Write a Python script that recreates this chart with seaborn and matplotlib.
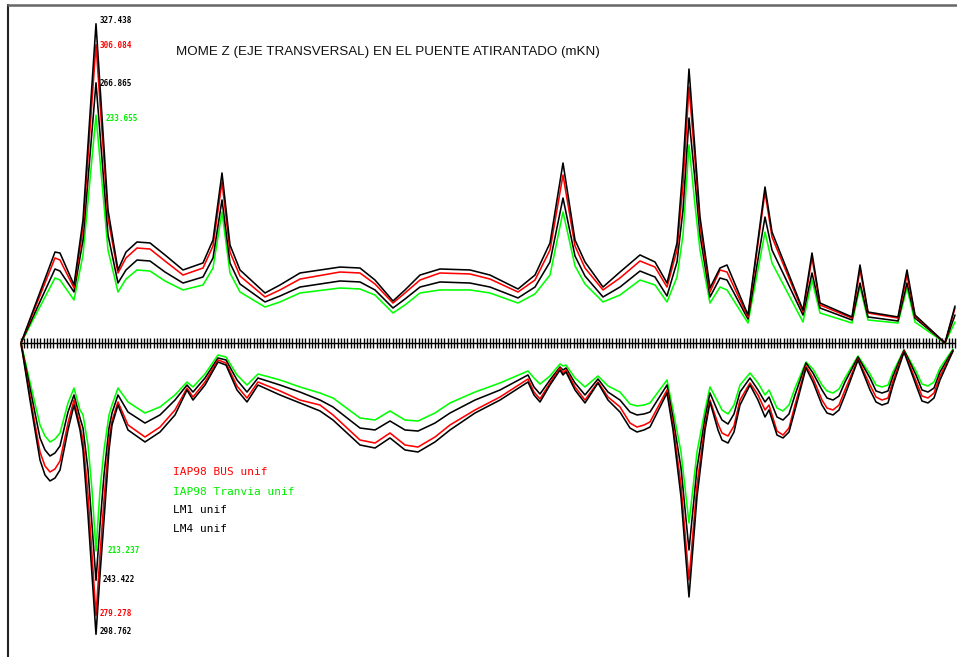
import numpy as np
import pandas as pd
import matplotlib
matplotlib.use("Agg")
import matplotlib.pyplot as plt
from matplotlib.lines import Line2D
import seaborn as sns

# ---------------- data (moments in mkN along the deck) ----------------
x_top = [21, 55, 60, 74, 83, 96, 108, 118, 126, 137, 150, 165, 183, 203, 213, 222, 230, 240, 265, 280,
         300, 340, 360, 375, 393, 405, 420, 440, 470, 490, 518, 535, 550, 563, 575, 585, 603, 620, 640, 655,
         667, 677, 683, 689, 695, 700, 710, 720, 727, 748, 765, 772, 803, 812, 820, 852, 860, 868, 898, 907,
         915, 945, 955]

lm1_max = [0, 93.3, 92.3, 59.5, 126.2, 327.438, 136.4, 74.9, 93.3, 103.6, 102.6, 90.3, 74.9, 82.1, 105.6, 174.4,
           100.5, 74.9, 51.3, 59.5, 71.8, 77.9, 76.9, 64.6, 43.1, 54.4, 69.7, 75.9, 74.9, 69.7, 55.4, 69.7, 102.6,
           184.6, 105.6, 83.1, 57.4, 72.8, 90.3, 83.1, 61.5, 102.6, 180.5, 281.0, 197.9, 129.2, 56.4, 76.9, 80.0,
           28.7, 160.0, 113.8, 33.8, 92.3, 41.0, 26.7, 80.0, 31.8, 26.7, 74.9, 28.7, 0, 37.9]
bus_max = [0, 87.2, 85.1, 56.4, 117.9, 306.084, 128.2, 71.8, 87.2, 97.4, 96.4, 84.1, 69.7, 76.9, 99.5, 165.1,
           93.3, 68.7, 47.2, 54.4, 65.6, 72.8, 71.8, 60.5, 41.0, 51.3, 64.6, 71.8, 70.8, 65.6, 52.3, 64.6, 95.4,
           172.3, 99.5, 76.9, 54.4, 66.7, 84.1, 77.9, 57.4, 95.4, 162.1, 262.6, 187.7, 121.0, 52.3, 74.9, 72.8,
           26.7, 154.9, 108.7, 31.8, 87.2, 39.0, 25.6, 74.9, 30.8, 25.6, 69.7, 27.7, 0, 35.9]
lm4_max = [0, 75.9, 73.8, 52.3, 105.6, 266.865, 110.8, 61.5, 74.9, 85.1, 84.1, 72.8, 61.5, 67.7, 87.2, 146.7,
           82.1, 60.5, 42.1, 48.2, 57.4, 63.6, 62.6, 54.4, 35.9, 45.1, 57.4, 62.6, 61.5, 57.4, 46.2, 57.4, 83.1,
           148.7, 89.2, 68.7, 47.2, 57.4, 73.8, 67.7, 48.2, 83.1, 136.4, 230.8, 167.2, 110.8, 47.2, 66.7, 64.6,
           24.6, 129.2, 95.4, 28.7, 71.8, 35.9, 23.6, 61.5, 26.7, 22.6, 61.5, 25.6, 0, 28.7]
tram_max = [0, 66.7, 64.6, 44.1, 90.3, 233.655, 95.4, 52.3, 65.6, 74.9, 73.8, 63.6, 54.4, 59.5, 76.9, 134.4,
            71.8, 52.3, 36.9, 42.1, 51.3, 56.4, 55.4, 49.2, 30.8, 39.0, 51.3, 54.4, 54.4, 51.3, 41.0, 50.3, 69.7,
            134.4, 79.0, 60.5, 42.1, 49.2, 64.6, 59.5, 42.1, 67.7, 110.8, 203.1, 141.5, 95.4, 41.0, 57.4, 54.4,
            20.5, 113.8, 82.1, 21.5, 64.6, 30.8, 20.5, 57.4, 23.6, 20.5, 56.4, 21.5, 0, 21.5]

x_bot = [21, 30, 40, 45, 50, 55, 60, 68, 74, 80,
         83, 88, 92, 96, 100, 104, 109, 112, 118, 128,
         145, 160, 175, 187, 193, 205, 218, 226, 237, 247,
         258, 280, 300, 320, 333, 360, 375, 390, 405, 418,
         435, 450, 475, 500, 528, 534, 540, 550, 560, 563,
         566, 575, 585, 598, 608, 620, 630, 637, 644, 650,
         667, 673, 681, 689, 697, 705, 710, 718, 722, 728,
         734, 740, 750, 758, 765, 769, 777, 783, 789, 795,
         806, 813, 822, 827, 833, 839, 845, 858, 870, 876,
         882, 888, 893, 904, 916, 922, 928, 934, 940, 953]

lm1_min = [0, -58.5, -120.0, -135.4, -141.5, -138.5, -130.3, -89.2, -63.6, -89.2,
           -109.7, -176.4, -237.9, -298.762, -237.9, -181.5, -109.7, -84.1, -63.6, -89.2,
           -101.5, -91.3, -73.8, -48.2, -58.5, -43.1, -19.5, -22.6, -48.2, -60.5,
           -43.1, -53.3, -61.5, -69.7, -79.0, -104.6, -107.7, -97.4, -109.7, -111.8,
           -101.5, -89.2, -71.8, -58.5, -40.0, -53.3, -60.5, -43.1, -27.7, -32.8,
           -29.7, -48.2, -61.5, -41.0, -58.5, -70.8, -87.2, -91.3, -89.2, -86.2,
           -51.3, -89.2, -157.9, -260.5, -157.9, -89.2, -60.5, -89.2, -99.5, -102.6,
           -91.3, -63.6, -43.1, -58.5, -75.9, -68.7, -94.4, -97.4, -91.3, -68.7,
           -25.6, -40.0, -63.6, -71.8, -73.8, -68.7, -53.3, -17.4, -48.2, -60.5,
           -63.6, -61.5, -43.1, -9.2, -43.1, -59.5, -61.5, -56.4, -37.9, -8.2]
bus_min = [0, -54.4, -111.8, -126.2, -132.3, -129.2, -121.0, -82.1, -58.5, -85.1,
           -99.5, -155.9, -217.4, -279.278, -217.4, -161.0, -99.5, -80.0, -60.5, -84.1,
           -96.4, -86.2, -68.7, -46.2, -55.4, -40.0, -17.4, -20.5, -44.1, -56.4,
           -40.0, -49.2, -58.5, -63.6, -73.8, -99.5, -102.6, -92.3, -104.6, -106.7,
           -96.4, -84.1, -68.7, -55.4, -36.9, -50.3, -57.4, -41.0, -25.6, -30.8,
           -27.7, -45.1, -58.5, -40.0, -55.4, -65.6, -82.1, -86.2, -84.1, -81.0,
           -48.2, -84.1, -145.6, -243.1, -145.6, -84.1, -58.5, -83.1, -92.3, -95.4,
           -85.1, -58.5, -41.0, -53.3, -68.7, -63.6, -90.3, -94.4, -87.2, -63.6,
           -23.6, -35.9, -58.5, -66.7, -68.7, -63.6, -48.2, -16.4, -43.1, -55.4,
           -58.5, -56.4, -39.0, -8.2, -39.0, -54.4, -56.4, -51.3, -33.8, -8.2]
lm4_min = [0, -46.2, -97.4, -109.7, -115.9, -112.8, -105.6, -70.8, -53.3, -76.9,
           -87.2, -130.3, -186.7, -243.422, -186.7, -135.4, -87.2, -71.8, -53.3, -70.8,
           -82.1, -73.8, -58.5, -43.1, -50.3, -35.9, -15.4, -17.4, -37.9, -50.3,
           -35.9, -43.1, -50.3, -58.5, -65.6, -87.2, -89.2, -80.0, -89.2, -90.3,
           -82.1, -71.8, -58.5, -48.2, -32.8, -45.1, -52.3, -37.9, -24.6, -27.7,
           -25.6, -41.0, -53.3, -36.9, -50.3, -58.5, -70.8, -73.8, -72.8, -70.8,
           -43.1, -76.9, -128.2, -212.3, -128.2, -76.9, -51.3, -70.8, -79.0, -83.1,
           -72.8, -50.3, -35.9, -48.2, -60.5, -55.4, -75.9, -79.0, -72.8, -53.3,
           -20.5, -30.8, -48.2, -56.4, -58.5, -54.4, -40.0, -14.4, -35.9, -49.2,
           -51.3, -49.2, -33.8, -7.2, -32.8, -48.2, -50.3, -46.2, -29.7, -7.2]
tram_min = [0, -40.0, -84.1, -95.4, -101.5, -98.5, -92.3, -61.5, -46.2, -68.7,
            -73.8, -104.6, -150.8, -213.237, -150.8, -109.7, -73.8, -63.6, -46.2, -60.5,
            -71.8, -65.6, -53.3, -40.0, -45.1, -31.8, -12.3, -14.4, -32.8, -43.1,
            -31.8, -37.9, -45.1, -51.3, -56.4, -76.9, -79.0, -69.7, -79.0, -80.0,
            -71.8, -61.5, -50.3, -41.0, -28.7, -35.9, -42.1, -33.8, -21.5, -23.6,
            -22.6, -35.9, -45.1, -33.8, -44.1, -50.3, -62.6, -64.6, -63.6, -61.5,
            -37.9, -68.7, -111.8, -184.6, -111.8, -68.7, -45.1, -60.5, -68.7, -72.8,
            -63.6, -43.1, -30.8, -41.0, -53.3, -48.2, -66.7, -69.7, -63.6, -46.2,
            -19.5, -26.7, -43.1, -49.2, -51.3, -47.2, -35.9, -13.3, -31.8, -43.1,
            -45.1, -43.1, -29.7, -7.2, -28.7, -42.1, -44.1, -40.0, -25.6, -6.2]

series_names = ["IAP98 BUS unif", "IAP98 Tranvia unif", "LM1 unif", "LM4 unif"]
series_colors = ["#ff0000", "#00ff00", "#000000", "#000000"]

deck_start, deck_end, n_nodes = 21, 955, 290

# ---------------- build long tables ----------------
for arr in (lm1_max, bus_max, lm4_max, tram_max):
    assert len(arr) == len(x_top)
for arr in (lm1_min, bus_min, lm4_min, tram_min):
    assert len(arr) == len(x_bot)

top_vals = {"IAP98 BUS unif": bus_max, "IAP98 Tranvia unif": tram_max, "LM1 unif": lm1_max, "LM4 unif": lm4_max}
bot_vals = {"IAP98 BUS unif": bus_min, "IAP98 Tranvia unif": tram_min, "LM1 unif": lm1_min, "LM4 unif": lm4_min}
rows = []
for env, xs, vals in (("max", x_top, top_vals), ("min", x_bot, bot_vals)):
    for name in series_names:
        for xv, yv in zip(xs, vals[name]):
            rows.append({"x": xv, "M": yv, "serie": name, "env": env})
df = pd.DataFrame(rows)
palette = dict(zip(series_names, series_colors))

# ---------------- figure ----------------
sns.set_style("white")
W, H = 957, 657
fig = plt.figure(figsize=(W / 100, H / 100), dpi=100)
ax = fig.add_axes([0, 0, 1, 1])
px_per_unit = 0.975
ax.set_xlim(0, W)
ax.set_ylim(-(H - 343) / px_per_unit, 343 / px_per_unit)
ax.axis("off")

# deck line with node ticks
nodes = np.linspace(deck_start, deck_end, n_nodes)
ax.plot(nodes, np.zeros_like(nodes), color="black", lw=1.0, marker="|", ms=6.5, mew=1.0, zorder=1)

draw_order = ["IAP98 Tranvia unif", "LM4 unif", "IAP98 BUS unif", "LM1 unif"]
for env in ("max", "min"):
    for name in draw_order:
        sub = df[(df.env == env) & (df.serie == name)]
        sns.lineplot(data=sub, x="x", y="M", color=palette[name], lw=1.15, ax=ax,
                     estimator=None, sort=False, legend=False, zorder=3)
ax.axis("off")

# peak value labels
mono = "DejaVu Sans Mono"
i_top = x_top.index(96)
i_bot = x_bot.index(96)
lab_fs = 5.5
green_txt = "#00ee00"
ax.text(x_top[i_top] + 4, lm1_max[i_top] + 3, f"{lm1_max[i_top]:.3f}", color="black", fontsize=lab_fs,
        family=mono, fontweight="bold", va="center", ha="left")
ax.text(x_top[i_top] + 4, bus_max[i_top] - 1, f"{bus_max[i_top]:.3f}", color="red", fontsize=lab_fs,
        family=mono, fontweight="bold", va="center", ha="left")
ax.text(x_top[i_top] + 4, lm4_max[i_top] - 1, f"{lm4_max[i_top]:.3f}", color="black", fontsize=lab_fs,
        family=mono, fontweight="bold", va="center", ha="left")
ax.text(x_top[i_top] + 10, tram_max[i_top] - 3, f"{tram_max[i_top]:.3f}", color=green_txt, fontsize=lab_fs,
        family=mono, fontweight="bold", va="center", ha="left")
ax.text(x_bot[i_bot] + 12, tram_min[i_bot], f"{-tram_min[i_bot]:.3f}", color=green_txt, fontsize=lab_fs,
        family=mono, fontweight="bold", va="center", ha="left")
ax.text(x_bot[i_bot] + 7, lm4_min[i_bot] + 1, f"{-lm4_min[i_bot]:.3f}", color="black", fontsize=lab_fs,
        family=mono, fontweight="bold", va="center", ha="left")
ax.text(x_bot[i_bot] + 4, bus_min[i_bot] + 2, f"{-bus_min[i_bot]:.3f}", color="red", fontsize=lab_fs,
        family=mono, fontweight="bold", va="center", ha="left")
ax.text(x_bot[i_bot] + 4, lm1_min[i_bot] + 3, f"{-lm1_min[i_bot]:.3f}", color="black", fontsize=lab_fs,
        family=mono, fontweight="bold", va="center", ha="left")

# title
fig.text(176 / W, 1 - 52 / H, "MOME Z (EJE TRANSVERSAL) EN EL PUENTE ATIRANTADO (mKN)",
         family="Liberation Sans", fontsize=9.6, color="#111111", va="center", ha="left")

# legend as coloured text
leg_y = [472, 492, 510, 529]
leg_colors = ["#ff0000", green_txt, "#000000", "#000000"]
for name, yy, cc in zip(series_names, leg_y, leg_colors):
    fig.text(173 / W, 1 - yy / H, name, family=mono, fontsize=8, color=cc, va="center", ha="left")

# drawing frame
fig.add_artist(Line2D([8 / W, 8 / W], [0, 1 - 5 / H], color="#222222", lw=1.5, transform=fig.transFigure))
fig.add_artist(Line2D([8 / W, 1], [1 - 5 / H, 1 - 5 / H], color="#666666", lw=1.8, transform=fig.transFigure))

fig.savefig("out.png", dpi=100)
